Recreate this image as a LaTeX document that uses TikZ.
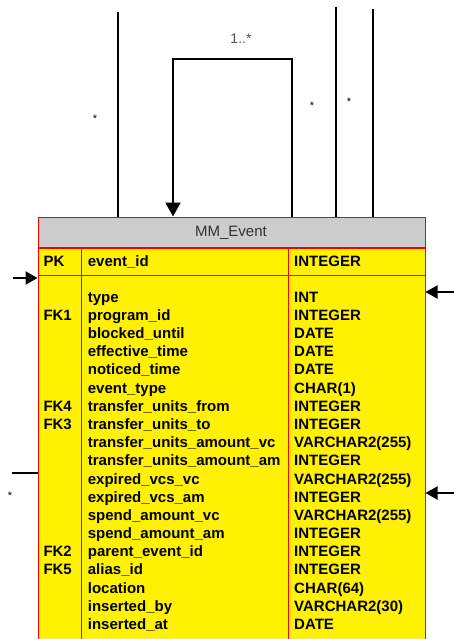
\documentclass[tikz,border=0pt]{standalone}
\usepackage{fontspec}
\setmainfont{Liberation Sans}
\usetikzlibrary{arrows.meta,calc}
\definecolor{hdrgray}{HTML}{CCCCCC}
\definecolor{hdrtext}{HTML}{333333}
\definecolor{multtext}{HTML}{555555}

\begin{document}
\begin{tikzpicture}[x=1pt,y=-1pt,
  link/.style={line width=2pt, black},
  bighead/.style={-{Triangle[length=14pt,width=15pt]}},
  sidehead/.style={-{Triangle[length=12pt,width=13pt]}},
  tablebox/.style={draw=red, line width=1pt, minimum width=387pt, inner sep=0pt, anchor=north west},
  colrule/.style={draw=red, line width=1pt},
  cell/.style={anchor=base west, inner sep=0pt, font=\fontsize{15}{18}\selectfont\bfseries},
  mult/.style={anchor=base, inner sep=0pt, font=\fontsize{11}{12}\selectfont},
]
\useasboundingbox (0,0) rectangle (454,639);
\clip (0,0) rectangle (454,639);

% entity box: title bar and one yellow block holding the key row and the attributes
\node[tablebox, fill=hdrgray, minimum height=30pt] (hdr) at (37.5,216.5) {};
\node[tablebox, fill=yellow, minimum height=409pt] (body) at (hdr.south west) {};
\node[anchor=base, inner sep=0pt, text=hdrtext, font=\fontsize{15}{18}\selectfont] (title) at (231,236) {MM\_Event};

% rule under the key row, and the column rules
\coordinate (r0) at (0,275.5);
\coordinate (c1) at (81.5,0);
\coordinate (c2) at (288.5,0);
\draw[colrule] (r0 -| body.west) -- (r0 -| body.east);
\draw[colrule] (c1 |- body.north) -- (c1 |- body.south);
\draw[colrule] (c2 |- body.north) -- (c2 |- body.south);

% primary key row
\node[cell] (pkk) at (43.3,266.7) {PK};
\node[cell] (pkn) at (87.7,266.7) {event\_id};
\node[cell] (pkt) at (294,266.7) {INTEGER};

% attribute rows
\foreach \k/\n/\t [count=\i from 0] in {
  /type/INT,
  FK1/program\_id/INTEGER,
  /blocked\_until/DATE,
  /effective\_time/DATE,
  /noticed\_time/DATE,
  /event\_type/CHAR(1),
  FK4/transfer\_units\_from/INTEGER,
  FK3/transfer\_units\_to/INTEGER,
  /transfer\_units\_amount\_vc/VARCHAR2(255),
  /transfer\_units\_amount\_am/INTEGER,
  /expired\_vcs\_vc/VARCHAR2(255),
  /expired\_vcs\_am/INTEGER,
  /spend\_amount\_vc/VARCHAR2(255),
  /spend\_amount\_am/INTEGER,
  FK2/parent\_event\_id/INTEGER,
  FK5/alias\_id/INTEGER,
  /location/CHAR(64),
  /inserted\_by/VARCHAR2(30),
  /inserted\_at/DATE}{
  \node[cell] (k\i) at (43.3,{302.3+18.17*\i}) {\k};
  \node[cell] (n\i) at (87.7,{302.3+18.17*\i}) {\n};
  \node[cell] (t\i) at (294,{302.3+18.17*\i}) {\t};
}

% relationships entering from above
\coordinate (a1) at (118,12);
\coordinate (b1) at (292,59);
\coordinate (b2) at (173,59);
\coordinate (a3) at (336,7);
\coordinate (a4) at (373,9);
\draw[link] (a1) -- (a1 |- hdr.north);
\draw[link, bighead] (b1 |- hdr.north) -- (b1) -- (b2) -- (b2 |- hdr.north);
\draw[link] (a3) -- (a3 |- hdr.north);
\draw[link] (a4) -- (a4 |- hdr.north);

% relationships entering from the sides
\coordinate (l1) at (13,278);
\coordinate (l2) at (12,473);
\coordinate (r1) at (454,292);
\coordinate (r2) at (454,493);
\draw[link, sidehead] (l1) -- (l1 -| body.west);
\draw[link] (l2) -- (l2 -| body.west);
\draw[link, sidehead] (r1) -- (r1 -| body.east);
\draw[link, sidehead] (r2) -- (r2 -| body.east);

% multiplicities
\node[anchor=base, inner sep=0pt, text=multtext, font=\fontsize{14}{16}\selectfont] (m0) at (241,43.5) {1..*};
\node[mult] (m1) at (95,123) {*};
\node[mult] (m2) at (312,110) {*};
\node[mult] (m3) at (349,106) {*};
\node[mult] (m4) at (10,499) {*};
\end{tikzpicture}
\end{document}
